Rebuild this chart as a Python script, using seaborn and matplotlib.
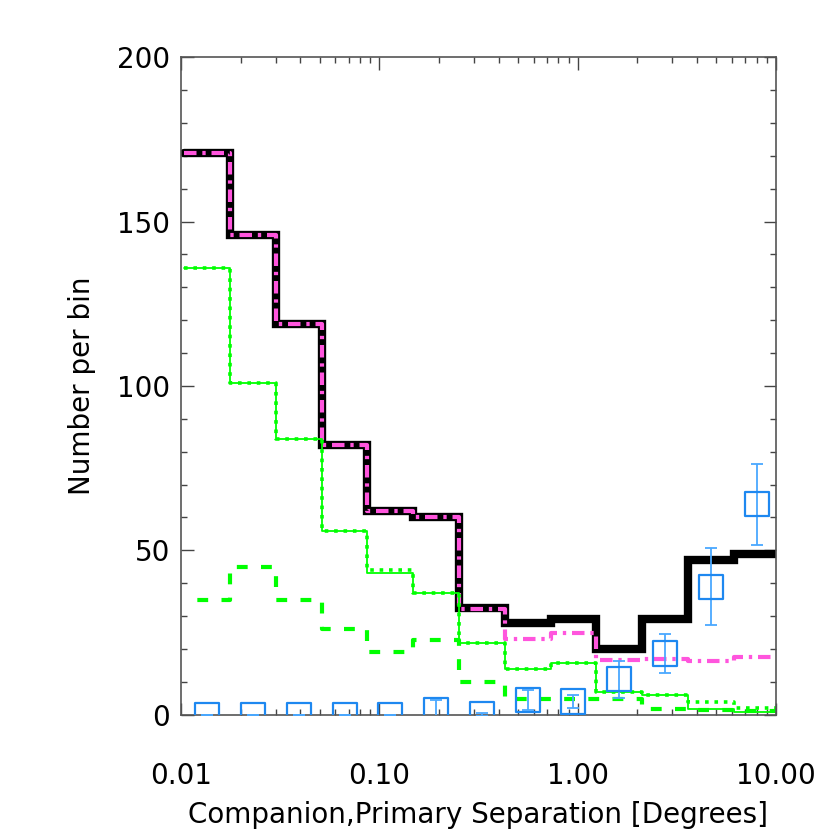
import numpy as np
import pandas as pd
import matplotlib
matplotlib.use("Agg")
import matplotlib.pyplot as plt
import seaborn as sns
from matplotlib.ticker import MultipleLocator, LogLocator, NullFormatter

# Bin edges (log spaced, 13 bins between ~0.01 and ~10)
edges = np.logspace(-1.983, 1.017, 14)
centers = np.sqrt(edges[:-1] * edges[1:])

# Number per bin for each curve
total = [171, 146, 119, 82, 62, 60, 32.5, 28, 29, 20, 29, 47, 49]
model = [171, 146, 119, 82, 62, 60, 32, 23, 24.8, 16.7, 17.0, 16.2, 17.5]
green_solid = [136, 101, 84, 56, 43, 37, 21.8, 13.9, 15.8, 6.8, 6.0, 1.8, 0.9]
green_dotted = [136, 101, 84, 56, 44, 37, 21.8, 13.9, 15.8, 6.8, 6.0, 3.8, 1.9]
green_dashed = [35, 45, 35, 26, 19, 22.8, 9.8, 4.8, 4.8, 4.8, 1.7, 1.5, 1.0]

# Observed points with errors
obs = [0, 0, 0, 0, 0, 1.3, 0.1, 4.4, 4.0, 10.7, 18.6, 38.9, 64.0]
obs_err = [0, 0, 0, 0, 0, 3.0, 0.4, 3.1, 2.1, 5.6, 5.9, 11.7, 12.3]


def steps(vals):
    # steps-post needs the last value repeated at the final edge
    return pd.DataFrame({"x": edges, "y": list(vals) + [vals[-1]]})


sns.set_style("ticks")
plt.rcParams["font.family"] = ["DejaVu Sans"]
plt.rcParams["text.color"] = "black"
plt.rcParams["axes.labelcolor"] = "black"
plt.rcParams["xtick.labelcolor"] = "black"
plt.rcParams["ytick.labelcolor"] = "black"

fig = plt.figure(figsize=(8.3, 8.3), dpi=100)
ax = fig.add_axes([0.218, 0.139, 0.717, 0.792])

kw = dict(x="x", y="y", ax=ax, sort=False, estimator=None, drawstyle="steps-post")
sns.lineplot(data=steps(total), color="black", lw=6, solid_joinstyle="miter", **kw)
sns.lineplot(data=steps(model), color="#ff55dd", lw=3, dashes=False,
             linestyle=(0, (3, 1.4, 0.8, 1.4)), **kw)
sns.lineplot(data=steps(green_solid), color="#00ff00", lw=1.3, **kw)
sns.lineplot(data=steps(green_dotted), color="#00ff00", lw=2.6,
             linestyle=(0, (1, 1.6)), **kw)
sns.lineplot(data=steps(green_dashed), color="#00ff00", lw=3,
             linestyle=(2.6, (2.6, 3.2)), **kw)

# observed
ax.errorbar(centers, obs, yerr=obs_err, fmt="none", ecolor="#4aa8ff",
            elinewidth=1.3, capsize=4, capthick=1.3, zorder=5)
sns.scatterplot(x=centers, y=obs, ax=ax, marker="s", s=300,
                facecolors="none", edgecolors="#1e88f0", linewidths=1.6, zorder=6)

ax.set_xscale("log")
ax.set_xlim(0.01, 10)
ax.set_ylim(0, 200)
ax.set_xticks([0.01, 0.1, 1, 10])
ax.set_xticklabels(["0.01", "0.10", "1.00", "10.00"])
ax.xaxis.set_minor_locator(LogLocator(base=10, subs=np.arange(2, 10)))
ax.xaxis.set_minor_formatter(NullFormatter())
ax.yaxis.set_major_locator(MultipleLocator(50))
ax.yaxis.set_minor_locator(MultipleLocator(10))

ax.tick_params(which="both", direction="in", top=True, right=True,
               color="#444444", width=1)
ax.tick_params(which="major", length=9)
ax.tick_params(which="minor", length=4.5)
ax.tick_params(axis="x", which="major", labelsize=20, pad=34)
ax.tick_params(axis="y", which="major", labelsize=20, pad=8)
for s in ax.spines.values():
    s.set_color("#555555")
    s.set_linewidth(1.2)

ax.set_xlabel("Companion,Primary Separation [Degrees]", fontsize=20, labelpad=8)
ax.set_ylabel("Number per bin", fontsize=20, labelpad=15)

fig.savefig("out.png", dpi=100)
